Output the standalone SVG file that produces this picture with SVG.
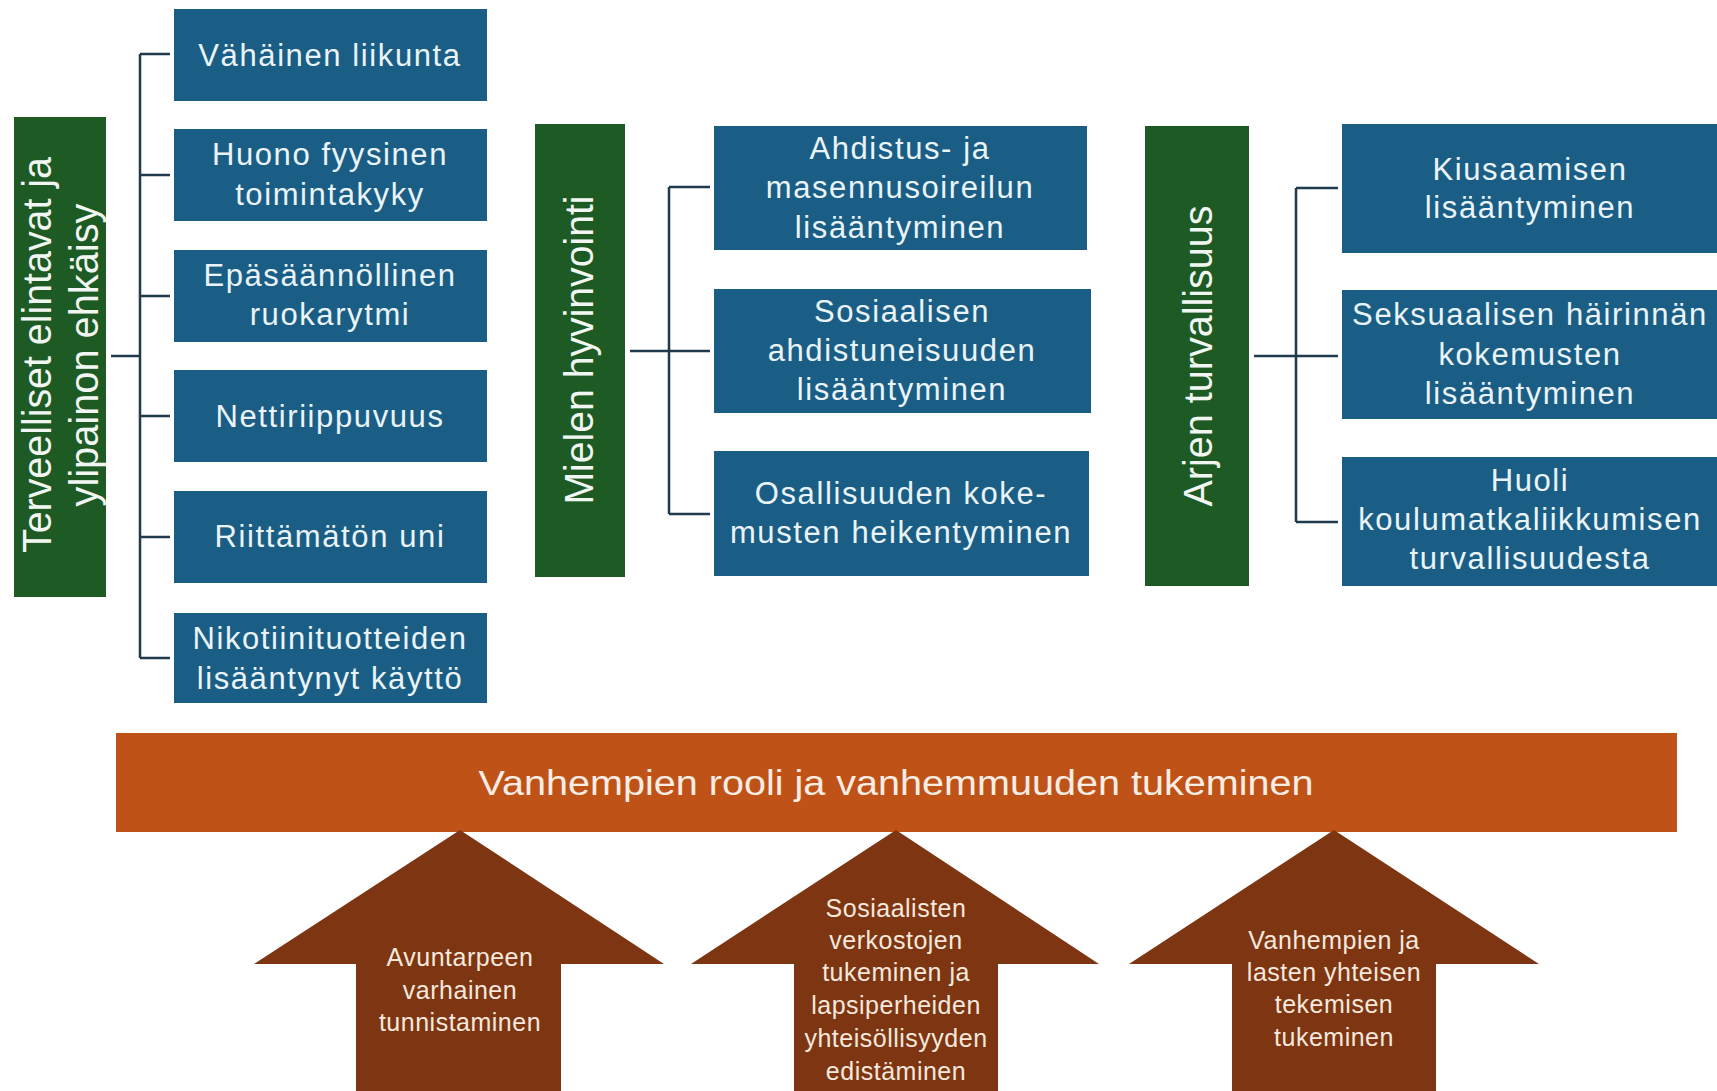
<svg xmlns="http://www.w3.org/2000/svg" width="1717" height="1091" viewBox="0 0 1717 1091">
<style>
.cat{fill:#1D5A24}
.box{fill:#1B5E85}
.vt{font-family:"Liberation Sans",Arial,sans-serif;font-size:40px;fill:#F2F6F2}
.bt{font-family:"Liberation Sans",Arial,sans-serif;font-size:31px;letter-spacing:1.6px;fill:#EAF4F8;text-anchor:middle}
.ban{fill:#BF5217}
.bant{font-family:"Liberation Sans",Arial,sans-serif;font-size:35px;fill:#FBEDE3;text-anchor:middle}
.arr{fill:#7D3512}
.at{font-family:"Liberation Sans",Arial,sans-serif;font-size:25px;letter-spacing:0.5px;fill:#F6E8DD;text-anchor:middle}
.con{stroke:#1E3A4C;stroke-width:2.5;fill:none}
</style>
<rect width="1717" height="1091" fill="#FFFFFF"/>

<g id="connectors">
<path class="con" d="M111 356H140M140 54V658M140 54H170M140 175H170M140 296H170M140 416H170M140 537H170M140 658H170"/>
<path class="con" d="M630 351H669M669 187V514M669 187H710M669 351H710M669 514H710"/>
<path class="con" d="M1254 356H1296M1296 188V522M1296 188H1338M1296 356H1338M1296 522H1338"/>
</g>

<g id="cat-terveelliset">
<rect class="cat" x="14" y="117" width="92" height="480"/>
<text class="vt" transform="translate(51,355) rotate(-90)" text-anchor="middle" textLength="396" lengthAdjust="spacingAndGlyphs">Terveelliset elintavat ja</text>
<text class="vt" transform="translate(98,355) rotate(-90)" text-anchor="middle" textLength="303" lengthAdjust="spacingAndGlyphs">ylipainon ehkäisy</text>
</g>

<g id="n-vahainen"><rect class="box" x="174" y="9" width="313" height="92"/><text class="bt" x="330" y="66">Vähäinen liikunta</text></g>
<g id="n-huono"><rect class="box" x="174" y="129" width="313" height="92"/><text class="bt" x="330" y="165">Huono fyysinen</text><text class="bt" x="330" y="205">toimintakyky</text></g>
<g id="n-epasaannollinen"><rect class="box" x="174" y="250" width="313" height="92"/><text class="bt" x="330" y="286">Epäsäännöllinen</text><text class="bt" x="330" y="325">ruokarytmi</text></g>
<g id="n-netti"><rect class="box" x="174" y="370" width="313" height="92"/><text class="bt" x="330" y="427">Nettiriippuvuus</text></g>
<g id="n-uni"><rect class="box" x="174" y="491" width="313" height="92"/><text class="bt" x="330" y="547">Riittämätön uni</text></g>
<g id="n-nikotiini"><rect class="box" x="174" y="613" width="313" height="90"/><text class="bt" x="330" y="649">Nikotiinituotteiden</text><text class="bt" x="330" y="689">lisääntynyt käyttö</text></g>

<g id="cat-mielen">
<rect class="cat" x="535" y="124" width="90" height="453"/>
<text class="vt" transform="translate(593,350) rotate(-90)" text-anchor="middle" textLength="309" lengthAdjust="spacingAndGlyphs">Mielen hyvinvointi</text>
</g>

<g id="n-ahdistus"><rect class="box" x="714" y="126" width="373" height="124"/><text class="bt" x="900" y="159">Ahdistus- ja</text><text class="bt" x="900" y="198">masennusoireilun</text><text class="bt" x="900" y="238">lisääntyminen</text></g>
<g id="n-sosiaalisen"><rect class="box" x="714" y="289" width="377" height="124"/><text class="bt" x="902" y="322">Sosiaalisen</text><text class="bt" x="902" y="361">ahdistuneisuuden</text><text class="bt" x="902" y="400">lisääntyminen</text></g>
<g id="n-osallisuuden"><rect class="box" x="714" y="451" width="375" height="125"/><text class="bt" x="901" y="504">Osallisuuden koke-</text><text class="bt" x="901" y="543">musten heikentyminen</text></g>

<g id="cat-arjen">
<rect class="cat" x="1145" y="126" width="104" height="460"/>
<text class="vt" transform="translate(1212,356) rotate(-90)" text-anchor="middle" textLength="301" lengthAdjust="spacingAndGlyphs">Arjen turvallisuus</text>
</g>

<g id="n-kiusaamisen"><rect class="box" x="1342" y="124" width="375" height="129"/><text class="bt" x="1530" y="180">Kiusaamisen</text><text class="bt" x="1530" y="218">lisääntyminen</text></g>
<g id="n-seksuaalisen"><rect class="box" x="1342" y="290" width="375" height="129"/><text class="bt" x="1530" y="325">Seksuaalisen häirinnän</text><text class="bt" x="1530" y="365">kokemusten</text><text class="bt" x="1530" y="404">lisääntyminen</text></g>
<g id="n-huoli"><rect class="box" x="1342" y="457" width="375" height="129"/><text class="bt" x="1530" y="491">Huoli</text><text class="bt" x="1530" y="530">koulumatkaliikkumisen</text><text class="bt" x="1530" y="569">turvallisuudesta</text></g>

<g id="n-vanhempien">
<rect class="ban" x="116" y="733" width="1561" height="99"/>
<text class="bant" x="896" y="795" textLength="835" lengthAdjust="spacingAndGlyphs">Vanhempien rooli ja vanhemmuuden tukeminen</text>
</g>

<g id="n-avuntarpeen">
<polygon class="arr" points="460,830 664,964 561,964 561,1091 356,1091 356,964 254,964"/>
<text class="at" x="460" y="966">Avuntarpeen</text><text class="at" x="460" y="999">varhainen</text><text class="at" x="460" y="1031">tunnistaminen</text>
</g>
<g id="n-sosiaalisten">
<polygon class="arr" points="896,830 1099,964 998,964 998,1091 794,1091 794,964 691,964"/>
<text class="at" x="896" y="917">Sosiaalisten</text><text class="at" x="896" y="949">verkostojen</text><text class="at" x="896" y="981">tukeminen ja</text><text class="at" x="896" y="1014">lapsiperheiden</text><text class="at" x="896" y="1047">yhteisöllisyyden</text><text class="at" x="896" y="1080">edistäminen</text>
</g>
<g id="n-yhteisen">
<polygon class="arr" points="1334,830 1539,964 1436,964 1436,1091 1232,1091 1232,964 1129,964"/>
<text class="at" x="1334" y="949">Vanhempien ja</text><text class="at" x="1334" y="981">lasten yhteisen</text><text class="at" x="1334" y="1013">tekemisen</text><text class="at" x="1334" y="1046">tukeminen</text>
</g>
</svg>
